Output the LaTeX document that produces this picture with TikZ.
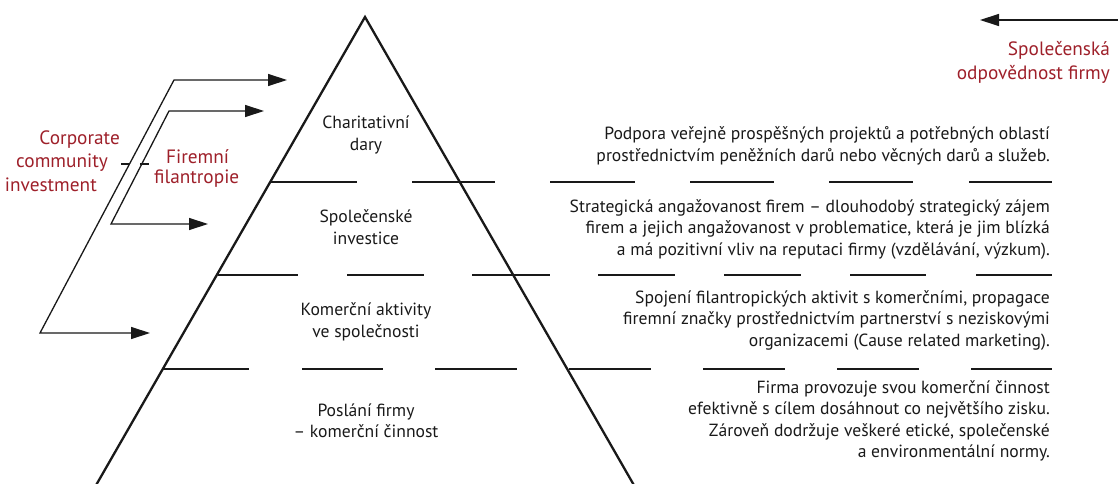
\documentclass[tikz,border=0pt]{standalone}
\usepackage{fontspec}
\setmainfont{PT Sans}
\usetikzlibrary{arrows.meta}
\definecolor{darkred}{RGB}{158,32,42}
\definecolor{ink}{RGB}{25,25,25}
\tikzset{
  txt/.style={font=\fontsize{17.6}{21.5}\selectfont, text=ink, inner sep=0pt},
  rtxt/.style={txt, align=right, anchor=east},
  ctxt/.style={txt, align=center},
  redtxt/.style={font=\fontsize{19.3}{23}\selectfont, text=darkred, inner sep=0pt},
  pyr/.style={line width=2.3pt, ink, line join=miter},
  divider/.style={line width=1.1pt, ink},
  arr/.style={line width=1.3pt, ink, -{Triangle[length=19pt,width=12pt]}},
  darr/.style={line width=1.3pt, ink, {Triangle[length=19pt,width=12pt]}-{Triangle[length=19pt,width=12pt]}},
  tick/.style={line width=1.1pt, ink}
}
\begin{document}
\begin{tikzpicture}[x=1pt,y=-1pt]
\useasboundingbox (0,0) rectangle (1118,484);
% pyramid
\coordinate (apex) at (365,17);
\coordinate (bl) at (95,487);
\coordinate (br) at (635,487);
\draw[pyr] (bl) -- (apex) -- (br);
% dividers row 1
\foreach \a/\b in {270/357,412/495,550/635,690/774,829/913,969/1052}
  \draw[divider] (\a,182) -- (\b,182);
% dividers row 2
\foreach \a/\b in {218/298,347/424,472/550,598/675,724/801,850/926,976/1052}
  \draw[divider] (\a,275) -- (\b,275);
% dividers row 3
\foreach \a/\b in {163/249,302/383,435/517,569/651,703/785,837/919,971/1052}
  \draw[divider] (\a,369) -- (\b,369);
% pyramid texts
\node[ctxt] (t1) at (366,135) {Charitativní\\dary};
\node[ctxt] (t2) at (366,227) {Společenské\\investice};
\node[ctxt] (t3) at (366,322) {Komerční aktivity\\ve společnosti};
\node[ctxt] (t4) at (366,421) {Poslání firmy\\– komerční činnost};
% right texts
\node[rtxt] (d1) at (1050,146) {Podpora veřejně prospěšných projektů a potřebných oblastí\\prostřednictvím peněžních darů nebo věcných darů a služeb.};
\node[rtxt] (d2) at (1050,229) {Strategická angažovanost firem – dlouhodobý strategický zájem\\firem a jejich angažovanost v problematice, která je jim blízká\\a má pozitivní vliv na reputaci firmy (vzdělávání, výzkum).};
\node[rtxt] (d3) at (1050,320) {Spojení filantropických aktivit s komerčními, propagace\\firemní značky prostřednictvím partnerství s neziskovými\\organizacemi (Cause related marketing).};
\node[rtxt] (d4) at (1050,421) {Firma provozuje svou komerční činnost\\efektivně s cílem dosáhnout co největšího zisku.\\Zároveň dodržuje veškeré etické, společenské\\a environmentální normy.};
% top right
\coordinate (srStart) at (1118,20);
\coordinate (srEnd) at (980,20);
\draw[arr] (srStart) -- (srEnd);
\node[redtxt, anchor=east] (sr1) at (1110,50) {Společenská};
\node[redtxt, anchor=east] (sr2) at (1110,74) {odpovědnost firmy};
% outer bracket
\coordinate (oTip1) at (287,80);
\coordinate (oTL) at (174,80);
\coordinate (oBL) at (40,333);
\coordinate (oTip2) at (150,333);
\draw[darr] (oTip2) -- (oBL) -- (oTL) -- (oTip1);
% inner bracket
\coordinate (iTip1) at (264,111);
\coordinate (iTL) at (169,111);
\coordinate (iBL) at (111,224);
\coordinate (iTip2) at (208,224);
\draw[darr] (iTip2) -- (iBL) -- (iTL) -- (iTip1);
% ticks
\coordinate (k1a) at (121,164); \coordinate (k1b) at (130,164);
\coordinate (k2a) at (140,164); \coordinate (k2b) at (149,164);
\draw[tick] (k1a) -- (k1b);
\draw[tick] (k2a) -- (k2b);
% left labels
\node[redtxt, anchor=east] (c1) at (120,140) {Corporate};
\node[redtxt, anchor=east] (c2) at (108,163) {community};
\node[redtxt, anchor=east] (c3) at (97,185) {investment};
\node[redtxt, anchor=west] (f1) at (166,157) {Firemní};
\node[redtxt, anchor=west] (f2) at (154,179) {filantropie};
\end{tikzpicture}
\end{document}
